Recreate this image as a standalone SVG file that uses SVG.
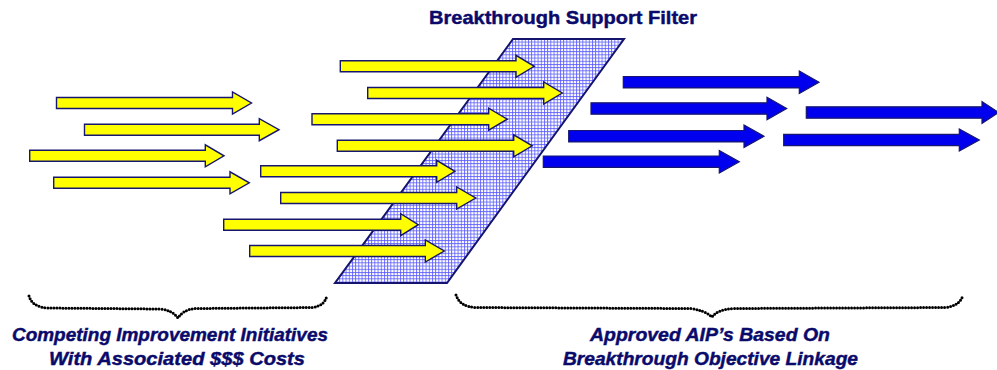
<svg xmlns="http://www.w3.org/2000/svg" width="997" height="370" viewBox="0 0 997 370">
<style>
.y{fill:#ffff00;stroke:#16166e;stroke-width:1.4;stroke-linejoin:miter}
.b{fill:#0000ee;stroke:#16166e;stroke-width:1.2;stroke-linejoin:miter}
.t{font-family:"Liberation Sans",Arial,sans-serif;font-weight:bold;fill:#0a0a6b;stroke:#0a0a6b;stroke-width:0.45}
.i{font-style:italic;font-size:19px}
.brace{fill:none;stroke:#000;stroke-width:3;stroke-linecap:round;stroke-dasharray:0 3}
</style>
<defs>
<pattern id="grid" width="3.2" height="3.2" patternUnits="userSpaceOnUse">
<rect width="3.2" height="3.2" fill="#ffffff"/>
<path d="M0 0.5H3.2M0.5 0V3.2" stroke="#5555ff" stroke-width="0.8"/>
</pattern>
</defs>
<rect width="997" height="370" fill="#ffffff"/>

<g id="filter">
<polygon points="513,39 624,39 447,283 335,283" fill="url(#grid)" stroke="#14146e" stroke-width="2"/>
</g>

<g id="yellow-arrows">
<g id="y1"><path class="y" d="M56.5,97.5H232.5V92L251.5,103L232.5,114V108.5H56.5Z"/></g>
<g id="y2"><path class="y" d="M84.5,124.2H259.3V118.7L279,129.7L259.3,140.7V135.2H84.5Z"/></g>
<g id="y3"><path class="y" d="M29.7,150.3H205.3V144.8L224,155.8L205.3,166.8V161.3H29.7Z"/></g>
<g id="y4"><path class="y" d="M53.7,177.3H230V171.8L249.3,182.8L230,193.8V188.3H53.7Z"/></g>
<g id="y5"><path class="y" d="M340.3,60.8H516V55.3L534.3,66.3L516,77.3V71.8H340.3Z"/></g>
<g id="y6"><path class="y" d="M367.7,87.5H543.7V82L562.3,93L543.7,104V98.5H367.7Z"/></g>
<g id="y7"><path class="y" d="M312,113.7H488.7V108.2L507.3,119.2L488.7,130.2V124.7H312Z"/></g>
<g id="y8"><path class="y" d="M337.3,140.3H513.7V134.8L532.3,145.8L513.7,156.8V151.3H337.3Z"/></g>
<g id="y9"><path class="y" d="M260.7,165.8H436.7V160.3L455,171.3L436.7,182.3V176.8H260.7Z"/></g>
<g id="y10"><path class="y" d="M280.7,192.5H456.7V187L475.7,198L456.7,209V203.5H280.7Z"/></g>
<g id="y11"><path class="y" d="M223.7,219.2H400.7V213.7L418.3,224.7L400.7,235.7V230.2H223.7Z"/></g>
<g id="y12"><path class="y" d="M249.7,245.5H425.3V240L444.3,251L425.3,262V256.5H249.7Z"/></g>
</g>

<g id="blue-arrows">
<g id="b1"><path class="b" d="M623.3,76.5H799.3V71L819,82.2L799.3,93.4V87.9H623.3Z"/></g>
<g id="b2"><path class="b" d="M591,102.8H767V97.3L786.7,108.5L767,119.7V114.2H591Z"/></g>
<g id="b3"><path class="b" d="M568.7,130.5H744V125L764,136.2L744,147.4V141.9H568.7Z"/></g>
<g id="b4"><path class="b" d="M543.3,156H719.3V150.5L739.3,161.7L719.3,172.9V167.4H543.3Z"/></g>
<g id="b5"><path class="b" d="M806.3,106.8H982V101.5L998.5,112.5L982,123.5V118.2H806.3Z"/></g>
<g id="b6"><path class="b" d="M783.7,134.3H959.3V129L979.3,140L959.3,151V145.6H783.7Z"/></g>
</g>

<g id="braces">
<path class="brace" d="M29,296 Q32,307 48,308 L160,309 Q172,310 178,318 Q184,309 196,308.5 L312,307.5 Q325,306 327,295"/>
<path class="brace" d="M456,295 Q460,307 476,307.5 L690,308.5 Q704,310 712,317 Q718,309 734,308.5 L945,307.5 Q960,306 963,295"/>
</g>

<g id="labels">
<text class="t" x="563" y="24" font-size="19" text-anchor="middle" textLength="268" lengthAdjust="spacingAndGlyphs">Breakthrough Support Filter</text>
<text class="t i" x="170" y="341" text-anchor="middle" textLength="316" lengthAdjust="spacingAndGlyphs">Competing Improvement Initiatives</text>
<text class="t i" x="177" y="365" text-anchor="middle" textLength="256" lengthAdjust="spacingAndGlyphs">With Associated $$$ Costs</text>
<text class="t i" x="710" y="341" text-anchor="middle" textLength="240" lengthAdjust="spacingAndGlyphs">Approved AIP’s Based On</text>
<text class="t i" x="710.5" y="365" text-anchor="middle" textLength="295" lengthAdjust="spacingAndGlyphs">Breakthrough Objective Linkage</text>
</g>
</svg>
